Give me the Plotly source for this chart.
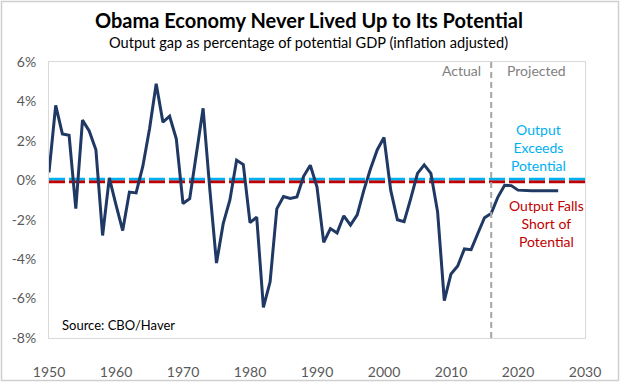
import plotly.graph_objects as go

years = list(range(1950, 2027))
output_gap = [0.4, 3.8, 2.35, 2.28, -1.44, 3.05, 2.5, 1.55, -2.8, 0.12,
              -1.25, -2.55, -0.6, -0.64, 0.7, 2.6, 4.9, 2.95, 3.25, 2.1,
              -1.18, -0.93, 1.35, 3.65, -0.45, -4.2, -2.2, -1.0, 1.02, 0.8,
              -2.15, -1.87, -6.45, -5.15, -1.45, -0.82, -0.92, -0.85, 0.2, 0.76,
              -0.34, -3.15, -2.45, -2.67, -1.8, -2.27, -1.75, -0.5, 0.6, 1.55,
              2.17, -0.5, -2.0, -2.1, -0.92, 0.35, 0.78, 0.35, -1.6, -6.1,
              -4.75, -4.35, -3.48, -3.52, -2.7, -1.9, -1.68, -0.85, -0.25, -0.27,
              -0.5, -0.53, -0.53, -0.53, -0.53, -0.53, -0.53]
x_ticks = [1950, 1960, 1970, 1980, 1990, 2000, 2010, 2020, 2030]
y_ticks = [6, 4, 2, 0, -2, -4, -6, -8]
y_labels = ["6%", "4%", "2%", "0%", "-2%", "-4%", "-6%", "-8%"]
split_year = 2016

FONT = "Lato, 'Open Sans', sans-serif"

fig = go.Figure()
# reference lines
fig.add_trace(go.Scatter(x=[1950, 2030], y=[-0.07, -0.07], mode="lines",
                         line=dict(color="#C00000", width=3, dash="16px,4px"),
                         hoverinfo="skip", showlegend=False))
fig.add_trace(go.Scatter(x=[1950, 2030], y=[0.07, 0.07], mode="lines",
                         line=dict(color="#00B0F0", width=2.5, dash="16px,4px"),
                         hoverinfo="skip", showlegend=False))
fig.add_trace(go.Scatter(x=years, y=output_gap, mode="lines",
                         line=dict(color="#1F3864", width=3),
                         showlegend=False))

fig.add_shape(type="line", x0=split_year, x1=split_year, y0=0, y1=1,
              xref="x", yref="paper",
              line=dict(color="#A6A6A6", width=2, dash="6px,4px"))
# outer chart border
fig.add_shape(type="rect", xref="paper", yref="paper",
              x0=-47.5/536, x1=569.5/536, y0=-42.5/276, y1=336.5/276,
              line=dict(color="#CFCFCF", width=1.5))

fig.add_annotation(x=2011.6, y=5.58, text="Actual", showarrow=False,
                   font=dict(family=FONT, size=14, color="#7F7F7F"))
fig.add_annotation(x=2022.7, y=5.58, text="Projected", showarrow=False,
                   font=dict(family=FONT, size=14, color="#7F7F7F"))
fig.add_annotation(x=2023.0, y=1.67, text="Output<br>Exceeds<br>Potential",
                   showarrow=False,
                   font=dict(family=FONT, size=14, color="#00B0F0"))
fig.add_annotation(x=2024.2, y=-2.18, text="Output Falls<br>Short of<br>Potential",
                   showarrow=False,
                   font=dict(family=FONT, size=14, color="#C00000"))
fig.add_annotation(x=1951.6, y=-7.36, text="Source: CBO/Haver", showarrow=False,
                   xanchor="left",
                   font=dict(family=FONT, size=13, color="#000000"))

fig.add_annotation(xref="paper", yref="paper", x=0.485, y=(338 - 20) / 276,
                   yanchor="middle", text="<b>Obama Economy Never Lived Up to Its Potential</b>",
                   showarrow=False, font=dict(family=FONT, size=20, color="#000000"))
fig.add_annotation(xref="paper", yref="paper", x=0.485, y=(338 - 43) / 276,
                   yanchor="middle", text="Output gap as percentage of potential GDP (inflation adjusted)",
                   showarrow=False, font=dict(family=FONT, size=14.6, color="#000000"))

fig.update_xaxes(range=[1950, 2030], tickvals=x_ticks, showgrid=False,
                 zeroline=False, showline=True, mirror=True, linecolor="#D9D9D9",
                 linewidth=1, ticks="", ticklabelstandoff=21, automargin=False,
                 tickfont=dict(family=FONT, size=14, color="#595959"))
fig.update_yaxes(range=[-8, 6], tickvals=y_ticks, ticktext=y_labels, showgrid=False,
                 zeroline=False, showline=True, mirror=True, linecolor="#D9D9D9",
                 linewidth=1, ticks="", ticklabelstandoff=9, automargin=False,
                 tickfont=dict(family=FONT, size=14, color="#595959"))

fig.update_layout(width=620, height=382, margin=dict(l=49, r=35, t=62, b=44),
                  plot_bgcolor="white", paper_bgcolor="white",
                  font=dict(family=FONT))
fig.write_html("out.html", config={"displayModeBar": False},
               post_script="document.body.style.margin='0';document.body.style.padding='0';")
